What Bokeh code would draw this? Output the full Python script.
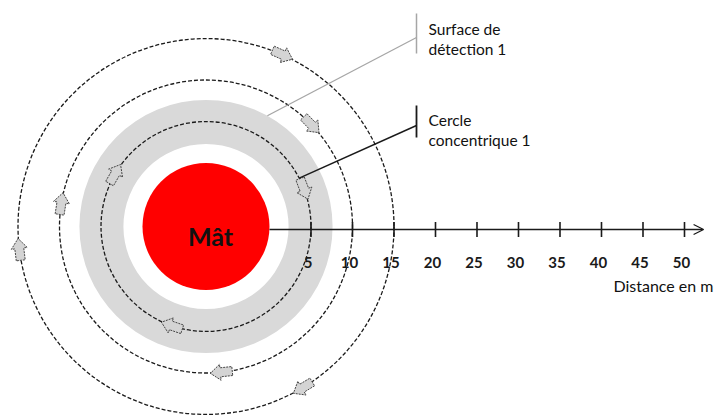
import numpy as np
from bokeh.plotting import figure
from bokeh.models import Range1d, Arrow, OpenHead, Label
from bokeh.core.properties import value
from bokeh.embed import file_html
from bokeh.resources import INLINE

# ---------------- data (metres) ----------------
mast_label = "Mât"
mast_radius = 7.65                      # radius of the mast disc
circle_distances = [5, 10, 15]          # concentric circles (distance from mast edge)
detection_ring = [2.3, 7.6]             # detection surface 1 (inner, outer distance)
tick_values = [5, 10, 15, 20, 25, 30, 35, 40, 45, 50]
tick_labels = ["5", "10", "15", "20", "25", "30", "35", "40", "45", "50"]
axis_end = 52.3
axis_title = "Distance en m"
# arrows: (index of concentric circle, angle in degrees)
arrow_circle = [0, 0, 0, 1, 1, 1, 2, 2, 2]
arrow_angle = [21, 150, 251, 44, 171, 276, 66, 187, 301]
label1 = ["Surface de", "détection 1"]
label2 = ["Cercle", "concentrique 1"]

FONT = value("Lato")
S = 8.3  # px per metre (for layout only)
CX, CY = 205.5, 226   # mast centre on the page
x0 = -CX / S
y1 = CY / S
W, H = 715, 418
p = figure(width=W, height=H, x_range=Range1d(x0, x0 + W / S), y_range=Range1d(y1 - H / S, y1),
           output_backend="svg", toolbar_location=None, min_border=0)
p.axis.visible = False
p.grid.visible = False
p.outline_line_color = None
p.background_fill_color = "white"


def px(x):
    return (x - CX) / S


def py(y):
    return (CY - y) / S


# detection ring
p.annulus(x=[0], y=[0], inner_radius=mast_radius + detection_ring[0],
          outer_radius=mast_radius + detection_ring[1], fill_color="#d9d9d9", line_color=None)
# mast
p.circle(x=[0], y=[0], radius=mast_radius, fill_color="#ff0000", line_color=None)
# concentric dashed circles
radii = [mast_radius + d for d in circle_distances]
p.circle(x=[0] * len(radii), y=[0] * len(radii), radius=radii, fill_color=None,
         line_color="#1a1a1a", line_dash="4 2", line_width=1.3)

# direction arrows (clockwise)
L, hl, hw, sw = 22 / S, 10 / S, 16 / S, 9 / S
xs_all, ys_all = [], []
for ci, a in zip(arrow_circle, arrow_angle):
    th = np.radians(a)
    r = radii[ci]
    cx, cy = r * np.cos(th), r * np.sin(th)
    ux, uy = np.sin(th), -np.cos(th)
    vx, vy = -uy, ux
    local = [(-L / 2, sw / 2), (L / 2 - hl, sw / 2), (L / 2 - hl, hw / 2), (L / 2, 0),
             (L / 2 - hl, -hw / 2), (L / 2 - hl, -sw / 2), (-L / 2, -sw / 2)]
    xs_all.append([cx + u * ux + v * vx for u, v in local])
    ys_all.append([cy + u * uy + v * vy for u, v in local])
p.patches(xs_all, ys_all, fill_color="#d4d4d4", line_color="#444444", line_dash="2 1", line_width=1)

# distance axis
axis_y = py(229)
p.add_layout(Arrow(end=OpenHead(size=10, line_width=1.3, line_color="#1a1a1a"),
                   x_start=mast_radius, y_start=axis_y, x_end=mast_radius + axis_end, y_end=axis_y,
                   line_width=1.3, line_color="#1a1a1a"))
tx = [mast_radius + t for t in tick_values]
p.segment(x0=tx, y0=[axis_y - 0.9] * len(tx), x1=tx, y1=[axis_y + 0.9] * len(tx),
          line_color="#1a1a1a", line_width=1.6)
p.text(x=tx, y=[py(262)] * len(tx), text=tick_labels, x_offset=-3, text_align="center",
       text_baseline="alphabetic", text_font=FONT, text_font_style="bold",
       text_font_size="15px", text_color="#1a1a1a")
p.add_layout(Label(x=px(713), y=py(285), text=axis_title, text_align="right",
                   text_baseline="alphabetic", text_font="Lato", text_font_size="16px",
                   text_color="#111111"))

# mast label
p.add_layout(Label(x=px(210), y=py(235), text=mast_label, text_align="center",
                   text_baseline="alphabetic", text_font="Lato", text_font_style="bold",
                   text_font_size="25px", text_color="#111111"))

# leader for detection surface
th1 = np.radians(61)
ro = mast_radius + detection_ring[1]
bx = px(416)
p.segment(x0=[ro * np.cos(th1)], y0=[ro * np.sin(th1)], x1=[bx], y1=[py(37)],
          line_color="#a6a6a6", line_width=1.3)
p.segment(x0=[bx], y0=[py(13)], x1=[bx], y1=[py(53)],
          line_color="#a6a6a6", line_width=1.5)
# leader for concentric circle
th2 = np.radians(27.4)
p.segment(x0=[radii[0] * np.cos(th2)], y0=[radii[0] * np.sin(th2)], x1=[bx], y1=[py(125)],
          line_color="#1a1a1a", line_width=1.5)
p.segment(x0=[bx], y0=[py(105)], x1=[bx], y1=[py(137)],
          line_color="#1a1a1a", line_width=1.8)

tx0 = px(428)
for lab, base in ((label1, 28), (label2, 119)):
    for i, t in enumerate(lab):
        p.add_layout(Label(x=tx0, y=py(base + 20 * i), text=t, text_align="left",
                           text_baseline="alphabetic", text_font="Lato", text_font_size="15.5px",
                           text_color="#111111"))

open("out.html", "w").write(file_html(p, INLINE))
